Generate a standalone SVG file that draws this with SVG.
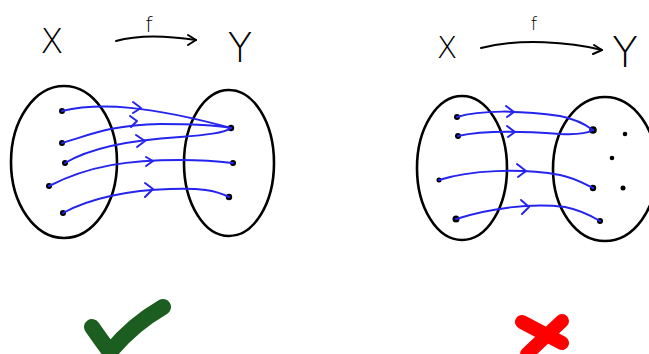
<svg xmlns="http://www.w3.org/2000/svg" width="649" height="354" viewBox="0 0 649 354">
<style>
.set{fill:none;stroke:#000;stroke-width:2.6}
.map{fill:none;stroke:#000;stroke-width:2;stroke-linecap:round;stroke-linejoin:round}
.arr{fill:none;stroke:#2424ee;stroke-width:2;stroke-linecap:round;stroke-linejoin:round}
.lbl{font-family:"DejaVu Sans","Liberation Sans",sans-serif;font-weight:200;fill:#000;text-anchor:middle}
.dot{fill:#000}
</style>
<rect width="649" height="354" fill="#fff"/>
<g id="left-diagram">
  <g id="left-labels">
    <text class="lbl" x="52" y="53" font-size="34">X</text>
    <text class="lbl" x="149" y="32" font-size="21">f</text>
    <text class="lbl" x="240" y="62" font-size="40">Y</text>
  </g>
  <g id="left-X-set">
    <ellipse class="set" cx="64" cy="162" rx="53" ry="76"/>
    <circle class="dot" cx="62" cy="111" r="3"/>
    <circle class="dot" cx="62" cy="143" r="3"/>
    <circle class="dot" cx="65" cy="163" r="3"/>
    <circle class="dot" cx="49" cy="186" r="3"/>
    <circle class="dot" cx="63" cy="213" r="3"/>
  </g>
  <g id="left-Y-set">
    <ellipse class="set" cx="229" cy="163" rx="45" ry="73"/>
    <circle class="dot" cx="231" cy="128" r="3.2"/>
    <circle class="dot" cx="233" cy="163" r="3"/>
    <circle class="dot" cx="229" cy="197" r="3.2"/>
  </g>
  <g id="left-check">
    <path d="M92,327 Q101,340 110,352 Q132,325 163,307" fill="none" stroke="#1b5e20" stroke-width="16" stroke-linecap="round" stroke-linejoin="round"/>
  </g>
</g>
<g id="right-diagram">
  <g id="right-labels">
    <text class="lbl" x="447" y="58" font-size="30">X</text>
    <text class="lbl" x="534" y="30" font-size="18">f</text>
    <text class="lbl" x="625" y="67" font-size="42">Y</text>
  </g>
  <g id="right-X-set">
    <ellipse class="set" cx="462" cy="168" rx="45" ry="72"/>
    <circle class="dot" cx="457" cy="117" r="3"/>
    <circle class="dot" cx="458" cy="136" r="3"/>
    <circle class="dot" cx="439" cy="180" r="2.5"/>
    <circle class="dot" cx="456" cy="219" r="3.5"/>
  </g>
  <g id="right-Y-set">
    <ellipse class="set" cx="605" cy="169" rx="52" ry="72"/>
    <circle class="dot" cx="593" cy="130" r="3.8"/>
    <circle class="dot" cx="593" cy="188" r="3.2"/>
    <circle class="dot" cx="600" cy="221" r="3"/>
    <circle class="dot" cx="625" cy="134" r="2.3"/>
    <circle class="dot" cx="612" cy="158" r="2.3"/>
    <circle class="dot" cx="623" cy="188" r="2.5"/>
  </g>
  <g id="right-cross">
    <path d="M522,322 L562,343 M562,321 L527,354" fill="none" stroke="#ff0000" stroke-width="14" stroke-linecap="round"/>
  </g>
</g>
<g id="connectors">
  <path class="map" d="M116,41 C140,34 170,36 196,40"/>
  <path class="map" d="M188,35 L196,40 L188,45"/>
  <path class="map" d="M481,48 C520,38 570,42 602,50"/>
  <path class="map" d="M594,45 L602,50 L593,54"/>

  <path class="arr" d="M62,111 C100,102 150,106 231,128"/>
  <path class="arr" d="M133,102 L141,108 L133,113"/>
  <path class="arr" d="M62,143 C90,135 110,125 160,124 C200,124 220,126 231,128"/>
  <path class="arr" d="M130,116 L137,121 L131,127"/>
  <path class="arr" d="M65,163 C90,148 130,140 180,137 C205,135 225,133 231,128"/>
  <path class="arr" d="M136,135 L145,141 L137,147"/>
  <path class="arr" d="M49,186 C90,165 130,160 180,160 C210,160 225,162 233,163"/>
  <path class="arr" d="M146,157 L153,161 L146,166"/>
  <path class="arr" d="M63,213 C90,198 130,190 170,189 C200,188 215,190 229,197"/>
  <path class="arr" d="M145,183 L153,189 L145,197"/>

  <path class="arr" d="M457,117 C480,110 520,110 560,116 C575,119 585,124 593,130"/>
  <path class="arr" d="M506,106 L514,112 L507,117"/>
  <path class="arr" d="M458,136 C480,131 520,131 560,134 C580,135 588,133 593,130"/>
  <path class="arr" d="M507,126 L515,132 L508,137"/>
  <path class="arr" d="M439,180 C470,170 520,168 560,175 C575,178 585,184 593,188"/>
  <path class="arr" d="M517,164 L526,171 L518,177"/>
  <path class="arr" d="M456,219 C490,208 530,203 565,207 C580,210 590,215 600,221"/>
  <path class="arr" d="M521,200 L529,207 L522,214"/>
</g>
</svg>
